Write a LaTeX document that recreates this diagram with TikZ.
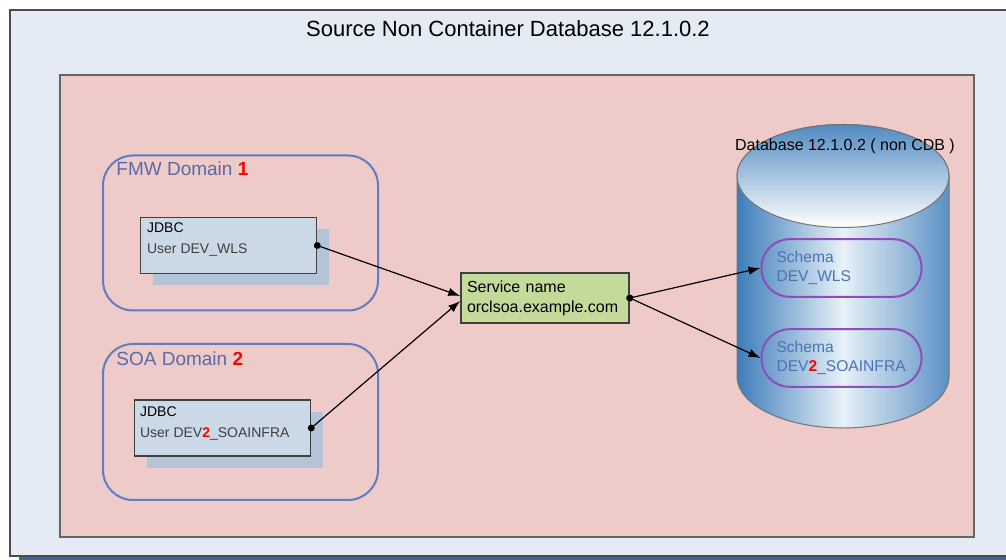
\documentclass[tikz,border=0pt]{standalone}
\usepackage{fontspec}
\setmainfont{Liberation Sans}
\usetikzlibrary{calc,positioning,arrows.meta,shadows}
\newcommand{\linkarrowstyle}{{Circle[length=3.4pt]}-{Latex[length=6pt,width=4.2pt]}}

\definecolor{outerbg}{HTML}{E5EBF5}
\definecolor{shadowblue}{HTML}{3A6699}
\definecolor{pinkbg}{HTML}{EECBC8}
\definecolor{domainline}{HTML}{5B7EC6}
\definecolor{domaintxt}{HTML}{5A6AA8}
\definecolor{jdbcfill}{HTML}{CBD8E5}
\definecolor{jdbcshade}{HTML}{B3C4D8}
\definecolor{svcfill}{HTML}{C3DA9A}
\definecolor{schemaline}{HTML}{8E4DB8}
\definecolor{schematxt}{HTML}{4B72B5}
\definecolor{cylblue}{HTML}{3D7DBA}
\definecolor{cyllight}{HTML}{E8F1F8}

\begin{document}
\begin{tikzpicture}[
    x=0.5pt, y=-0.5pt,
    font=\fontsize{8}{10}\selectfont,
    link/.style={\linkarrowstyle, line width=0.6pt, shorten <=-1.7pt},
    jdbcbox/.style={draw=black!75, line width=0.8pt, fill=jdbcfill, minimum width=88pt, minimum height=28pt,
        drop shadow={shadow xshift=6pt, shadow yshift=-6pt, fill=jdbcshade, opacity=1}},
    boxtext/.style={anchor=north west, align=left, inner sep=0pt, font=\fontsize{7}{10.5}\selectfont},
    domainbox/.style={draw=domainline, line width=1pt, rounded corners=15pt, minimum width=137.5pt, minimum height=77.5pt},
    domaintext/.style={anchor=north west, inner sep=0pt, text=domaintxt, font=\fontsize{9.5}{11}\selectfont},
    svcbox/.style={draw=black!75, line width=0.8pt, fill=svcfill, minimum width=84pt, minimum height=25pt,
        text width=78pt, inner xsep=3pt, align=left, font=\fontsize{8}{10}\selectfont},
    schema/.style={draw=schemaline, line width=1pt, rounded corners=14pt, minimum width=80pt, minimum height=28.8pt,
        text width=65pt, inner xsep=7.5pt, align=left, text=schematxt, font=\fontsize{7.8}{9.2}\selectfont}
]
  \clip (0,0) rectangle (1006,560);

  % frames
  \fill[shadowblue] (19,20) rectangle (1040,562);
  \filldraw[fill=outerbg, draw=black!70, line width=0.6pt] (10,10) rectangle (1040,556);
  \node[anchor=base, font=\fontsize{11}{13}\selectfont] (title) at (508,37) {Source Non Container Database 12.1.0.2};
  \filldraw[fill=pinkbg, draw=black!60, line width=0.7pt] (60,75) rectangle (974,537);

  % domains
  \node[domainbox] (fmw) at (240.5,233) {};
  \node[domaintext] (fmwlabel) at ([xshift=7pt,yshift=-3.5pt]fmw.north west) {FMW Domain \textcolor{red}{\textbf{1}}};
  \node[domainbox, minimum height=78pt] (soa) at (240.5,422) {};
  \node[domaintext] (soalabel) at ([xshift=7pt,yshift=-4pt]soa.north west) {SOA Domain \textcolor{red}{\textbf{2}}};

  \node[jdbcbox] (jdbcA) at (228.5,245.5) {};
  \node[boxtext] (jdbcAtxt) at ([xshift=3.5pt,yshift=-2.8pt]jdbcA.north west)
      {JDBC\\\textcolor{black!75}{User DEV\_WLS}};
  \node[jdbcbox] (jdbcB) at (222.5,428) {};
  \node[boxtext] (jdbcBtxt) at ([xshift=3pt,yshift=-3.5pt]jdbcB.north west)
      {JDBC\\\textcolor{black!75}{User DEV\textcolor{red}{\textbf{2}}\_SOAINFRA}};

  \node[svcbox] (svc) at (545,298) {Service name\\orclsoa.example.com};

  % database cylinder
  \shade[left color=cylblue, right color=cylblue!85, middle color=cyllight, draw=black!55, line width=0.5pt]
    (737,176) -- (737,376.5) arc[start angle=180, end angle=360, x radius=53pt, y radius=25.75pt]
    -- (949,176) arc[start angle=0, end angle=180, x radius=53pt, y radius=25.75pt] -- cycle;
  \shade[top color=cylblue!90, bottom color=white, draw=black!55, line width=0.5pt]
    (843,176) ellipse[x radius=53pt, y radius=25.75pt];
  \node[font=\fontsize{8}{10}\selectfont] (dblabel) at (845,146) {Database 12.1.0.2 ( non CDB )};

  \node[schema] (schemaA) at (841.5,268) {Schema\\DEV\_WLS};
  \node[schema] (schemaB) at (841.5,358) {Schema\\DEV\textcolor{red}{\textbf{2}}\_SOAINFRA};

  % connections
  \draw[link] (jdbcA.east) -- ([yshift=1pt]svc.west);
  \draw[link] (jdbcB.east) -- ([yshift=-1.5pt]svc.west);
  \draw[link] (svc.east) -- (schemaA.west);
  \draw[link] (svc.east) -- (schemaB.west);
\end{tikzpicture}
\end{document}
